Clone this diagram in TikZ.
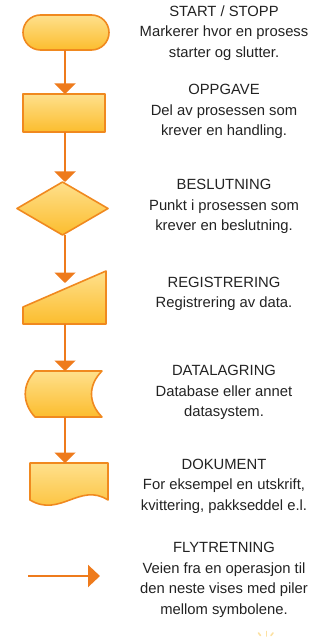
\documentclass[tikz,border=0pt]{standalone}
\usepackage{fontspec}
\setmainfont{Liberation Sans}
\usetikzlibrary{arrows.meta}
\definecolor{lineor}{HTML}{EE7B1C}
\definecolor{edgeor}{HTML}{F0891F}
\definecolor{filltop}{HTML}{FEE08C}
\definecolor{fillbot}{HTML}{FCBD2E}
\definecolor{txt}{HTML}{222222}
\definecolor{ray}{HTML}{FCE1A2}
\begin{document}
\begin{tikzpicture}[x=1bp,y=-1bp,
  frame/.style={inner sep=0pt,outer sep=0pt},
  symbol/.style={draw=edgeor,line width=1.6bp,line join=round,top color=filltop,bottom color=fillbot},
  flow/.style={draw=lineor,line width=2.2bp,-{Triangle[width=21bp,length=10.5bp]}},
  desc/.style={align=center,text=txt,font=\fontsize{14.8bp}{20.6bp}\selectfont,inner sep=0pt}]
\useasboundingbox (0,0) rectangle (320,639);

% symbols (invisible frames carry the names, paths draw the outlines)
\node[frame,symbol,rounded corners=17.5bp,minimum width=86bp,minimum height=35bp] (start) at (66,32.5) {};
\node[frame,symbol,minimum width=82bp,minimum height=38bp] (task) at (64,113) {};
\node[frame,minimum width=91bp,minimum height=53bp] (dec) at (62.5,208.5) {};
\path[symbol] (dec.north) -- (dec.east) -- (dec.south) -- (dec.west) -- cycle;
\node[frame,minimum width=83bp,minimum height=53bp] (reg) at (64.5,297.5) {};
\path[symbol] (reg.north east) -- (reg.south east) -- (reg.south west) -- ([yshift=17bp]reg.south west) -- cycle;
\coordinate (regin) at (65,283);
\node[frame,minimum width=77bp,minimum height=46bp] (store) at (63.5,394) {};
\path[symbol] (35,371) -- (102,371) .. controls (88,385) and (88,403) .. (102,417)
  -- (35,417) .. controls (22,403) and (22,385) .. (35,371) -- cycle;
\node[frame,minimum width=78bp,minimum height=42bp] (doc) at (69,484) {};
\path[symbol] (30,463) -- (108,463) -- (108,500) .. controls (80,482) and (60,518) .. (30,500) -- cycle;

% connectors
\draw[flow] (start.south -| 65,0) -- (task.north -| 65,0);
\draw[flow] (task.south -| 65,0) -- (dec.north -| 65,0);
\draw[flow] (dec.south -| 65,0) -- (regin);
\draw[flow] (reg.south -| 65,0) -- (store.north -| 65,0);
\draw[flow] (store.south -| 65,0) -- (doc.north -| 65,0);

% legend arrow
\coordinate (fa) at (28,576);
\coordinate (fb) at (100,576);
\draw[draw=lineor,line width=2.2bp,-{Triangle[width=22bp,length=12bp]}] (fa) -- (fb);

% descriptions
\node[desc] (t1) at (224,33) {START / STOPP\\Markerer hvor en prosess\\starter og slutter.};
\node[desc] (t2) at (224,111.5) {OPPGAVE\\Del av prosessen som\\krever en handling.};
\node[desc] (t3) at (224,206.5) {BESLUTNING\\Punkt i prosessen som\\krever en beslutning.};
\node[desc] (t4) at (224,294) {REGISTRERING\\Registrering av data.};
\node[desc] (t5) at (224,392.5) {DATALAGRING\\Database eller annet\\datasystem.};
\node[desc] (t6) at (224,486) {DOKUMENT\\For eksempel en utskrift,\\kvittering, pakkseddel e.l.};
\node[desc] (t7) at (224,580) {FLYTRETNING\\Veien fra en operasjon til\\den neste vises med piler\\mellom symbolene.};

% faint rays at the lower edge
\draw[ray,line width=1.6bp,line cap=round] (258.5,633) -- (260.5,635.5);
\draw[ray,line width=1.6bp,line cap=round] (266.5,631.5) -- (266.5,636);
\draw[ray,line width=1.6bp,line cap=round] (273,633) -- (271,635.5);
\end{tikzpicture}
\end{document}
